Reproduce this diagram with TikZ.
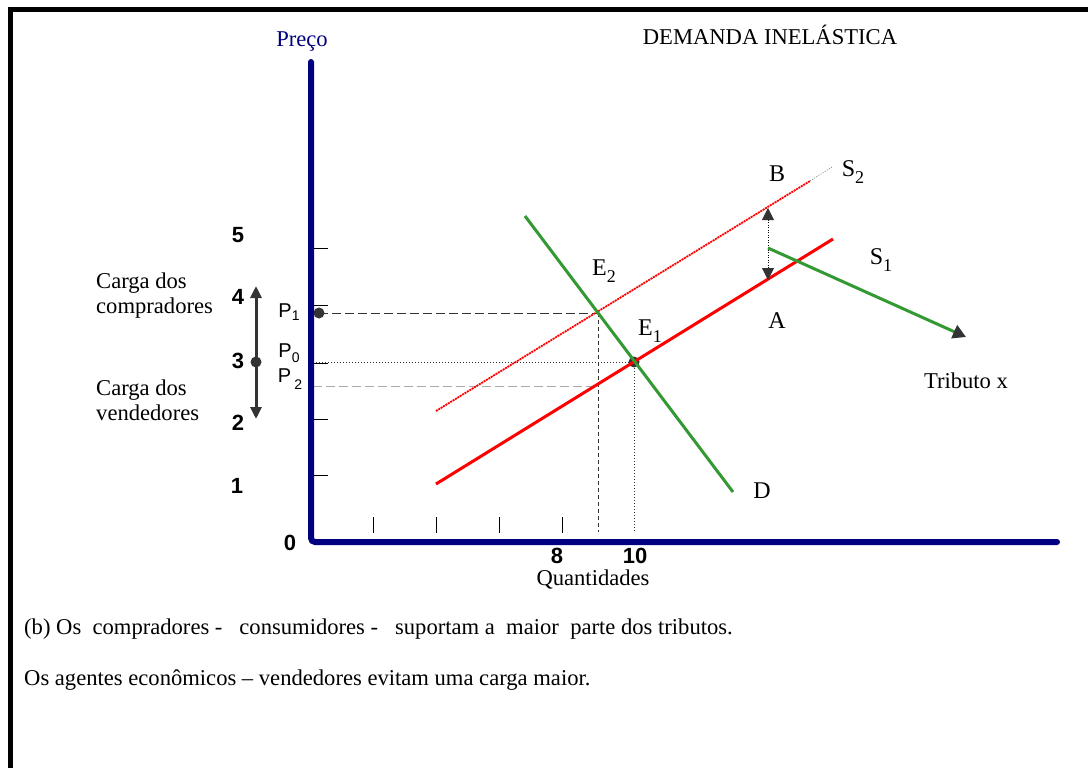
\documentclass[tikz,border=0pt]{standalone}
\usepackage{fontspec}
\setmainfont{Liberation Serif}
\setsansfont{Liberation Sans}
\usetikzlibrary{arrows.meta}
\definecolor{navy}{RGB}{0,0,128}
\definecolor{dgreen}{RGB}{51,153,51}
\definecolor{dgrey}{RGB}{51,51,51}
\definecolor{lgrey}{RGB}{170,170,170}
\newcommand{\mysub}[1]{\raisebox{-0.6ex}{\fontsize{18}{18}\selectfont #1}}
\newcommand{\mypsub}[2]{\raisebox{#2}{\fontsize{14}{14}\selectfont #1}}
\begin{document}
\begin{tikzpicture}[x=1pt,y=-1pt,
  txt/.style={font=\fontsize{22.6}{25}\selectfont, inner sep=0pt, align=left},
  lbl/.style={font=\fontsize{24}{26}\selectfont, inner sep=0pt},
  num/.style={font=\sffamily\bfseries\fontsize{22}{22}\selectfont, inner sep=0pt},
  plbl/.style={font=\sffamily\fontsize{20}{20}\selectfont, inner sep=0pt},
  tickline/.style={line width=0.8pt, black},
  supply/.style={red, line width=3pt},
  demand/.style={dgreen, line width=3pt},
  mytip/.tip={Triangle[length=12pt,width=11pt,color=dgrey,fill=dgrey]},
  taxtip/.tip={Triangle[length=12pt,width=12pt,color=dgrey,fill=dgrey]}]
\useasboundingbox (0,0) rectangle (1088,768);
% frame
\draw[line width=5pt] (10,768) -- (10,10) -- (1088,10);
% coordinates
\coordinate (O) at (311,542);
\coordinate (Ytop) at (311,62);
\coordinate (Xend) at (1057,542);
\coordinate (D1) at (525,216);
\coordinate (D2) at (733,492);
\coordinate (S1a) at (436,484);
\coordinate (S1b) at (833,239);
\coordinate (S2a) at (436,411);
\coordinate (S2m) at (810,181);
\coordinate (S2b) at (832,167);
\coordinate (E1) at (634,362);
\coordinate (E2) at (598,313);
\coordinate (P1dot) at (319,313);
\coordinate (P0y) at (313,362);
\coordinate (P2y) at (313,386);
\coordinate (P2x) at (595,386);
\coordinate (E2foot) at (598,532);
\coordinate (E1foot) at (634,532);
\coordinate (Tup) at (768,208);
\coordinate (Tdown) at (768,280);
\coordinate (Tx1) at (768,248);
\coordinate (Tx2) at (966,337);
\coordinate (Cup) at (256,286);
\coordinate (Cdown) at (256,419);
\coordinate (Cdot) at (256,362);
% ticks
\foreach \yy in {248,305,363,419,475} \draw[tickline] (313,\yy) -- (328,\yy);
\foreach \xx in {373,436,499,562} \draw[tickline] (\xx,517) -- (\xx,533);
% guide lines
\draw[dgrey, line width=0.9pt, dash pattern=on 9pt off 4pt] (P1dot) -- (E2);
\draw[dgrey, line width=0.9pt, dash pattern=on 4pt off 3pt] (E2) -- (E2foot);
\draw[dgrey, line width=0.7pt, dash pattern=on 1pt off 2pt] (P0y) -- (E1) -- (E1foot);
\draw[lgrey, line width=1pt, dash pattern=on 9pt off 4pt] (P2y) -- (P2x);
% dots
\fill[dgrey] (P1dot) circle (5.5);
\fill[dgrey] (E1) circle (5.5);
% curves
\draw[red, line width=1.8pt, dash pattern=on 2pt off 0.8pt] (S2a) -- (S2m);
\draw[gray, line width=0.7pt, dash pattern=on 1pt off 1.5pt] (S2m) -- (S2b);
\draw[supply] (S1a) -- (S1b);
\draw[demand] (D1) -- (D2);
% tax
\draw[black, line width=0.8pt, dash pattern=on 1pt off 1.5pt, {taxtip}-{taxtip}] (Tup) -- (Tdown);
\draw[demand, -{Triangle[length=13pt,width=14pt,color=dgrey,fill=dgrey]}] (Tx1) -- (Tx2);
% burden arrow
\draw[dgrey, line width=3pt, {mytip}-{mytip}] (Cup) -- (Cdown);
\fill[dgrey] (Cdot) circle (5.5);
% axes
\draw[navy, line width=6pt, line cap=round, rounded corners=4pt] (Ytop) -- (O) -- (Xend);
% texts
\node[txt, navy] (preco) at (302,42) {Preço};
\node[txt] (title) at (770,35) {DEMANDA INELÁSTICA};
\node[txt, anchor=west] (cc) at (96,296) {Carga dos\\compradores};
\node[txt, anchor=west] (cv) at (96,400) {Carga dos\\vendedores};
\node[txt, anchor=west] (nb) at (24,629) {(b) Os~ compradores -~~ consumidores -~~ suportam a~ maior~ parte dos tributos.};
\node[txt, anchor=west] (na) at (24,680) {Os agentes econômicos – vendedores evitam uma carga maior.};
\node[lbl] (lB) at (777,174) {B};
\node[lbl] (lS2) at (853,172) {S\mysub{2}};
\node[lbl] (lS1) at (881,260) {S\mysub{1}};
\node[lbl] (lA) at (777,321) {A};
\node[lbl] (lE2) at (604,271) {E\mysub{2}};
\node[lbl] (lE1) at (650,331) {E\mysub{1}};
\node[lbl] (lD) at (762,491) {D};
\node[txt] (trib) at (966,381) {Tributo x};
\node[txt] (quant) at (593,579) {Quantidades};
\node[num] (n5) at (238,235) {5};
\node[num] (n4) at (238,297) {4};
\node[num] (n3) at (238,361) {3};
\node[num] (n2) at (238,423) {2};
\node[num] (n1) at (237,486) {1};
\node[num] (n0) at (290,543) {0};
\node[num] (n8) at (557,556) {8};
\node[num] (n10) at (635,556) {10};
\node[plbl] (p1) at (289,312) {P\mypsub{1}{-0.3ex}};
\node[plbl] (p0) at (289,353) {P\mypsub{0}{-0.5ex}};
\node[plbl] (p2) at (290,379) {P\,\mypsub{2}{-0.6ex}};
\end{tikzpicture}
\end{document}
